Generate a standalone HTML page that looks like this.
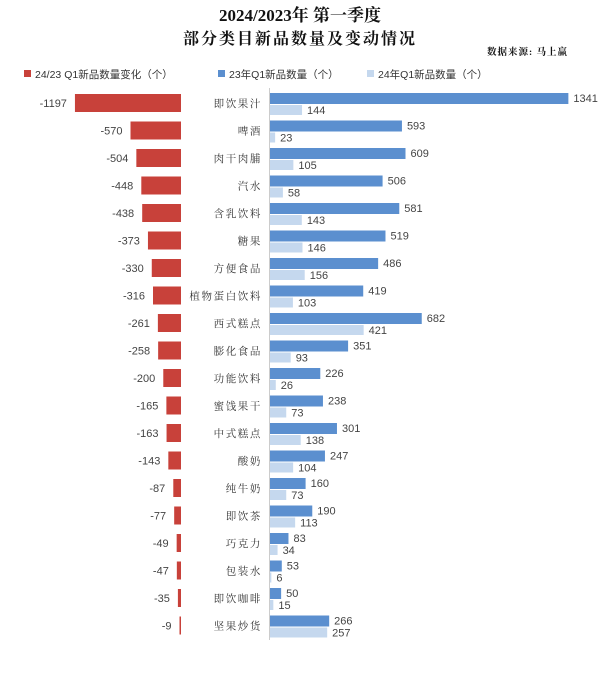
<!DOCTYPE html>
<html><head><meta charset="utf-8"><style>
body{margin:0;background:#fff;}
svg{display:block;}
text{font-family:"Liberation Sans","Noto Sans CJK SC",sans-serif;fill:#333;}
.t{font-family:"Liberation Serif","Noto Serif CJK SC",serif;font-weight:bold;fill:#111;}
.c{font-family:"Noto Serif CJK SC",serif;font-size:10.5px;letter-spacing:1.6px;fill:#333;}
.v{font-size:11px;fill:#444;}
</style></head><body>
<svg width="600" height="674" xmlns="http://www.w3.org/2000/svg">
<text class="t" x="300" y="21" font-size="17" text-anchor="middle">2024/2023年 第一季度</text>
<text class="t" x="300" y="44" font-size="16" text-anchor="middle" letter-spacing="2">部分类目新品数量及变动情况</text>
<text class="t" x="568" y="55" font-size="9.5" text-anchor="end" letter-spacing="1">数据来源: 马上赢</text>
<rect x="24" y="70" width="7" height="7" fill="#c8413a"/>
<text x="35" y="78" font-size="10.5">24/23 Q1新品数量变化（个）</text>
<rect x="218" y="70" width="7" height="7" fill="#5b8fcf"/>
<text x="229" y="78" font-size="10.5">23年Q1新品数量（个）</text>
<rect x="367" y="70" width="7" height="7" fill="#c5d8ee"/>
<text x="378" y="78" font-size="10.5">24年Q1新品数量（个）</text>
<line x1="269.5" y1="88" x2="269.5" y2="640" stroke="#ccc" stroke-width="1"/>
<g id="rows"></g>
</svg>
<script>
var d=[["即饮果汁",-1197,1341,144],["啤酒",-570,593,23],["肉干肉脯",-504,609,105],["汽水",-448,506,58],["含乳饮料",-438,581,143],["糖果",-373,519,146],["方便食品",-330,486,156],["植物蛋白饮料",-316,419,103],["西式糕点",-261,682,421],["膨化食品",-258,351,93],["功能饮料",-200,226,26],["蜜饯果干",-165,238,73],["中式糕点",-163,301,138],["酸奶",-143,247,104],["纯牛奶",-87,160,73],["即饮茶",-77,190,113],["巧克力",-49,83,34],["包装水",-47,53,6],["即饮咖啡",-35,50,15],["坚果炒货",-9,266,257]];
var s='',k=0.0886,b=0.2225;
d.forEach(function(r,i){var c=103+27.5*i;
var rw=Math.max(1.5,-r[1]*k);
s+='<rect x="'+(181-rw)+'" y="'+(c-9)+'" width="'+rw+'" height="18" fill="#c8413a"/>';
s+='<text class="v" x="'+(181-rw-8)+'" y="'+(c+4)+'" text-anchor="end">'+r[1]+'</text>';
s+='<text class="c" x="262" y="'+(c+4)+'" text-anchor="end">'+r[0]+'</text>';
var w1=r[2]*b,w2=Math.max(1,r[3]*b);
s+='<rect x="270" y="'+(c-10)+'" width="'+w1+'" height="11" fill="#5b8fcf"/>';
s+='<rect x="270" y="'+(c+2)+'" width="'+w2+'" height="10" fill="#c5d8ee"/>';
s+='<text class="v" x="'+(270+w1+5)+'" y="'+(c-1)+'">'+r[2]+'</text>';
s+='<text class="v" x="'+(270+w2+5)+'" y="'+(c+11)+'">'+r[3]+'</text>';
});
document.getElementById('rows').innerHTML=s;
</script>
</body></html>
